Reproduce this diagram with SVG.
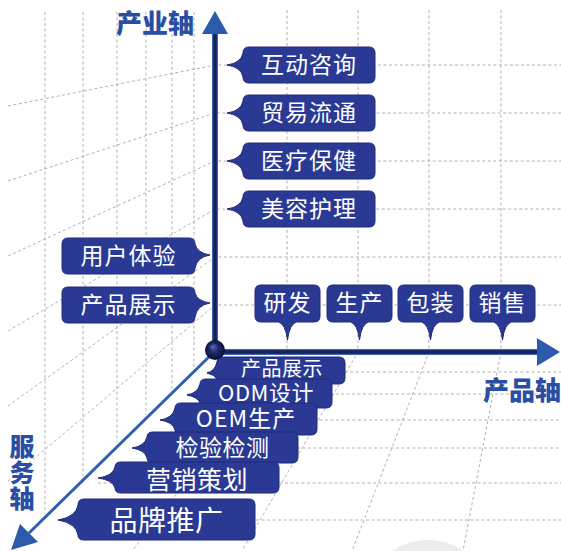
<svg xmlns="http://www.w3.org/2000/svg" width="561" height="551" viewBox="0 0 561 551">
<style>
  .grid{fill:none;stroke:#a3a3a3;stroke-width:0.85;stroke-dasharray:3 2.5}
  .bub{fill:#2a3a94;stroke:#1e2878;stroke-width:1}
  .bt{font-family:"Noto Sans CJK SC","Noto Sans",sans-serif;fill:#ffffff;text-anchor:middle}
  .ax{font-family:"Noto Sans CJK SC","Noto Sans",sans-serif;font-weight:900;fill:#2a4ea3;font-size:26px}
  .arrow{fill:#2c5bab}
</style>
<defs>
  <radialGradient id="ball" cx="0.5" cy="0.5" r="0.5" fx="0.38" fy="0.32">
    <stop offset="0" stop-color="#5a6fb5"/>
    <stop offset="0.45" stop-color="#1e2b6a"/>
    <stop offset="1" stop-color="#0a1136"/>
  </radialGradient>
</defs>
<rect width="561" height="551" fill="#ffffff"/>
<ellipse cx="428" cy="600" rx="62" ry="60" fill="#ededed"/>

<g id="grid" class="grid">
  <line x1="45" y1="12" x2="45" y2="518"/>
  <line x1="83" y1="12" x2="83" y2="480"/>
  <line x1="117" y1="12" x2="117" y2="447"/>
  <line x1="146" y1="12" x2="146" y2="419"/>
  <line x1="172" y1="12" x2="172" y2="393"/>
  <line x1="194" y1="12" x2="194" y2="372"/>
  <polyline points="287,10 287,352 132,551"/>
  <polyline points="358,10 358,352 242,551"/>
  <polyline points="429,10 429,352 352,551"/>
  <polyline points="501,10 501,352 463,551"/>
  <polyline points="8,106 215,65 561,65"/>
  <polyline points="8,181 215,113 561,113"/>
  <polyline points="8,256 215,161 561,161"/>
  <polyline points="8,331 215,209 561,209"/>
  <polyline points="8,406 215,257 561,257"/>
  <polyline points="8,481 215,305 561,305"/>
  <line x1="207" y1="372" x2="561" y2="372"/>
  <line x1="187" y1="394" x2="561" y2="394"/>
  <line x1="160" y1="420" x2="561" y2="420"/>
  <line x1="132" y1="448" x2="561" y2="448"/>
  <line x1="98" y1="483" x2="561" y2="483"/>
  <line x1="58" y1="520" x2="561" y2="520"/>
</g>

<g id="connectors">
  <line x1="215" y1="352" x2="215" y2="30" stroke="#3a62b0" stroke-width="6"/>
  <line x1="215" y1="352" x2="215" y2="30" stroke="#16225a" stroke-width="3.5"/>
  <polygon class="arrow" points="215,11 228,34 202,34"/>
  <line x1="215" y1="352" x2="540" y2="352" stroke="#3a62b0" stroke-width="6"/>
  <line x1="215" y1="352" x2="540" y2="352" stroke="#16225a" stroke-width="3.5"/>
  <polygon class="arrow" points="560,352 537,338 537,366"/>
  <line x1="215" y1="351" x2="29" y2="533" stroke="#ffffff" stroke-width="5.5"/>
  <line x1="215" y1="351" x2="29" y2="533" stroke="#2f5fae" stroke-width="3"/>
  <polygon class="arrow" points="11,550 38,542 20,524"/>
</g>

<text class="ax" x="116" y="33">产业轴</text>
<text class="ax" x="483" y="400">产品轴</text>
<text class="ax" x="22" y="434" writing-mode="tb" style="font-size:25px" letter-spacing="1">服务轴</text>

<g id="ind1"><path class="bub" d="M249,47 H369 Q375,47 375,53 V77 Q375,83 369,83 H249 Q243,83 243,77 Q241,67 227,65 Q241,63 243,53 Q243,47 249,47 Z"/><text class="bt" x="309" y="73" font-size="23" letter-spacing="1">互动咨询</text></g>
<g id="ind2"><path class="bub" d="M249,95 H369 Q375,95 375,101 V125 Q375,131 369,131 H249 Q243,131 243,125 Q241,115 227,113 Q241,111 243,101 Q243,95 249,95 Z"/><text class="bt" x="309" y="121" font-size="23" letter-spacing="1">贸易流通</text></g>
<g id="ind3"><path class="bub" d="M249,143 H369 Q375,143 375,149 V173 Q375,179 369,179 H249 Q243,179 243,173 Q241,163 227,161 Q241,159 243,149 Q243,143 249,143 Z"/><text class="bt" x="309" y="169" font-size="23" letter-spacing="1">医疗保健</text></g>
<g id="ind4"><path class="bub" d="M249,191 H369 Q375,191 375,197 V221 Q375,227 369,227 H249 Q243,227 243,221 Q241,211 227,209 Q241,207 243,197 Q243,191 249,191 Z"/><text class="bt" x="309" y="217" font-size="23" letter-spacing="1">美容护理</text></g>

<g id="left1"><path class="bub" d="M68,238 H189 Q195,238 195,244 Q197,253 210,255 Q197,257 195,268 Q195,274 189,274 H68 Q62,274 62,268 V244 Q62,238 68,238 Z"/><text class="bt" x="128.5" y="264" font-size="23" letter-spacing="1">用户体验</text></g>
<g id="left2"><path class="bub" d="M68,287 H189 Q195,287 195,293 Q197,301 210,303 Q197,305 195,317 Q195,323 189,323 H68 Q62,323 62,317 V293 Q62,287 68,287 Z"/><text class="bt" x="128.5" y="313" font-size="23" letter-spacing="1">产品展示</text></g>

<g id="prod1"><path class="bub" d="M261,285 H314 Q320,285 320,291 V316 Q320,322 314,322 H296.5 Q289.5,324 287.5,340 Q285.5,324 278.5,322 H261 Q255,322 255,316 V291 Q255,285 261,285 Z"/><text class="bt" x="287.5" y="311" font-size="23" letter-spacing="1">研发</text></g>
<g id="prod2"><path class="bub" d="M333,285 H386 Q392,285 392,291 V316 Q392,322 386,322 H368.5 Q361.5,324 359.5,340 Q357.5,324 350.5,322 H333 Q327,322 327,316 V291 Q327,285 333,285 Z"/><text class="bt" x="359.5" y="311" font-size="23" letter-spacing="1">生产</text></g>
<g id="prod3"><path class="bub" d="M404,285 H457 Q463,285 463,291 V316 Q463,322 457,322 H439.5 Q432.5,324 430.5,340 Q428.5,324 421.5,322 H404 Q398,322 398,316 V291 Q398,285 404,285 Z"/><text class="bt" x="430.5" y="311" font-size="23" letter-spacing="1">包装</text></g>
<g id="prod4"><path class="bub" d="M476,285 H529 Q535,285 535,291 V316 Q535,322 529,322 H511.5 Q504.5,324 502.5,340 Q500.5,324 493.5,322 H476 Q470,322 470,316 V291 Q470,285 476,285 Z"/><text class="bt" x="502.5" y="311" font-size="23" letter-spacing="1">销售</text></g>

<g id="svc1"><path class="bub" d="M223,357 H339 Q345,357 345,363 V378 Q345,384 339,384 H223 Q217,384 217,379 Q215,375 207,373 Q215,371 217,362 Q217,357 223,357 Z"/><text class="bt" x="282" y="376" font-size="20" letter-spacing="0.5">产品展示</text></g>
<g id="svc2"><path class="bub" d="M206,379 H326 Q332,379 332,385 V402 Q332,408 326,408 H206 Q200,408 200,403 Q198,397 187,395 Q198,393 200,384 Q200,379 206,379 Z"/><text class="bt" x="266" y="401" font-size="22" letter-spacing="0.5">ODM设计</text></g>
<g id="svc3"><path class="bub" d="M181,403 H311 Q317,403 317,409 V429 Q317,435 311,435 H181 Q175,435 175,430 Q173,422 160,420 Q173,418 175,408 Q175,403 181,403 Z"/><text class="bt" x="246" y="427" font-size="23" letter-spacing="1">OEM生产</text></g>
<g id="svc4"><path class="bub" d="M153,432 H292 Q298,432 298,438 V457 Q298,463 292,463 H153 Q147,463 147,458 Q145,450 132,448 Q145,446 147,437 Q147,432 153,432 Z"/><text class="bt" x="222.5" y="456" font-size="23" letter-spacing="0.5">检验检测</text></g>
<g id="svc5"><path class="bub" d="M121,462 H273 Q279,462 279,468 V487 Q279,493 273,493 H121 Q115,493 115,488 Q113,480 98,478 Q113,476 115,467 Q115,462 121,462 Z"/><text class="bt" x="197" y="489" font-size="25" letter-spacing="0.5">营销策划</text></g>
<g id="svc6"><path class="bub" d="M84,499 H249 Q255,499 255,505 V534 Q255,540 249,540 H84 Q78,540 78,535 Q76,523 58,520 Q76,517 78,505 Q78,499 84,499 Z"/><text class="bt" x="166.5" y="531" font-size="28" letter-spacing="0.5">品牌推广</text></g>

<circle id="origin" cx="215" cy="350" r="10" fill="url(#ball)"/>
</svg>
